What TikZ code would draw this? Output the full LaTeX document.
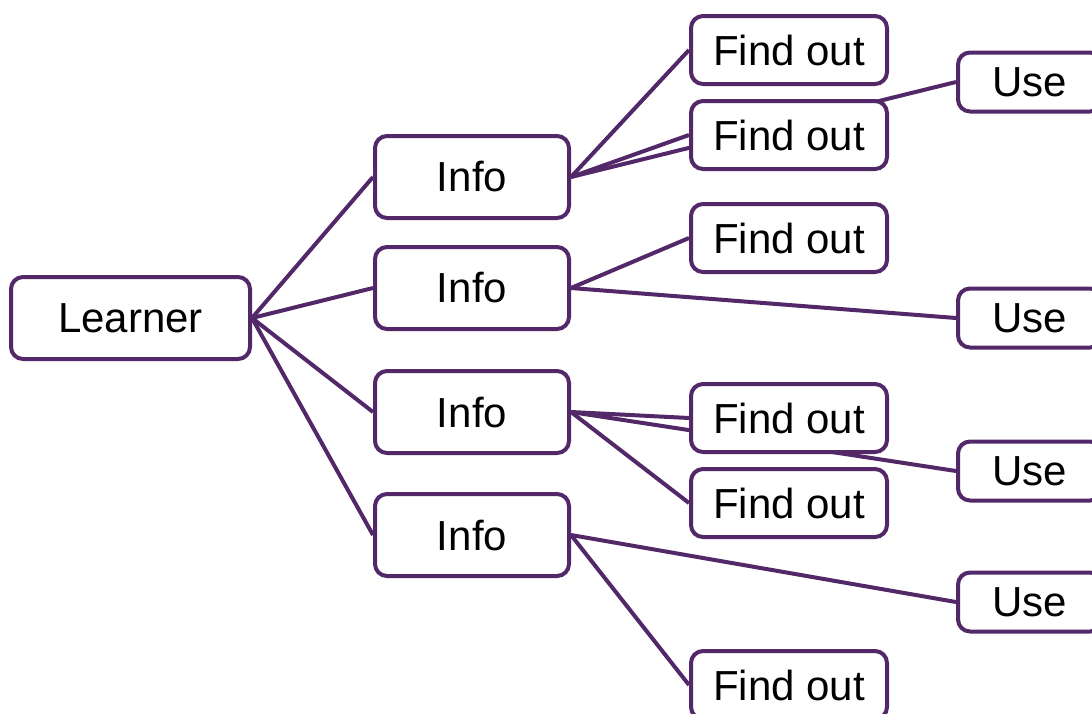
\documentclass[tikz,border=0pt]{standalone}
\usepackage{fontspec}
\setmainfont{Liberation Sans}
\usetikzlibrary{backgrounds}
\definecolor{edgepurple}{RGB}{82,40,104}
\begin{document}
\begin{tikzpicture}[x=1pt,y=1pt,
  box/.style={draw=edgepurple, line width=4pt, fill=white, rounded corners=12pt,
    inner sep=0pt, font=\fontsize{42}{50}\selectfont},
  learnerbox/.style={box, minimum width=239pt, minimum height=82pt},
  infobox/.style={box, minimum width=194pt, minimum height=82pt},
  findbox/.style={box, minimum width=196pt, minimum height=68pt},
  usebox/.style={box, minimum width=144pt, minimum height=59pt},
  link/.style={draw=edgepurple, line width=4pt}]
\useasboundingbox (0,0) rectangle (1092,-713);
\clip (0,0) rectangle (1092,-713);
% nodes
\node[learnerbox] (L) at (130.5,-318) {Learner};
\node[infobox] (I1) at (472,-177) {Info};
\node[infobox] (I2) at (472,-288) {Info};
\node[infobox] (I3) at (472,-412) {Info};
\node[infobox] (I4) at (472,-535) {Info};
\node[findbox] (F1) at (789,-50) {Find out};
\node[findbox] (F2) at (789,-135) {Find out};
\node[findbox] (F3) at (789,-238) {Find out};
\node[findbox] (F4) at (789,-418) {Find out};
\node[findbox] (F5) at (789,-503) {Find out};
\node[findbox] (F6) at (789,-685) {Find out};
\node[usebox] (U1) at (1030,-82) {Use};
\node[usebox] (U2) at (1030,-318) {Use};
\node[usebox] (U3) at (1030,-471) {Use};
\node[usebox] (U4) at (1030,-602) {Use};
% connectors behind the boxes
\begin{pgfonlayer}{background}
\draw[link] (L.east) -- (I1.west);
\draw[link] (L.east) -- (I2.west);
\draw[link] (L.east) -- (I3.west);
\draw[link] (L.east) -- (I4.west);
\draw[link] (I1.east) -- (F1.west);
\draw[link] (I1.east) -- (F2.west);
\draw[link] (I1.east) -- (U1.west);
\draw[link] (I2.east) -- (F3.west);
\draw[link] (I2.east) -- (U2.west);
\draw[link] (I3.east) -- (F4.west);
\draw[link] (I3.east) -- (F5.west);
\draw[link] (I3.east) -- (U3.west);
\draw[link] (I4.east) -- (U4.west);
\draw[link] (I4.east) -- (F6.west);
\end{pgfonlayer}
\end{tikzpicture}
\end{document}
